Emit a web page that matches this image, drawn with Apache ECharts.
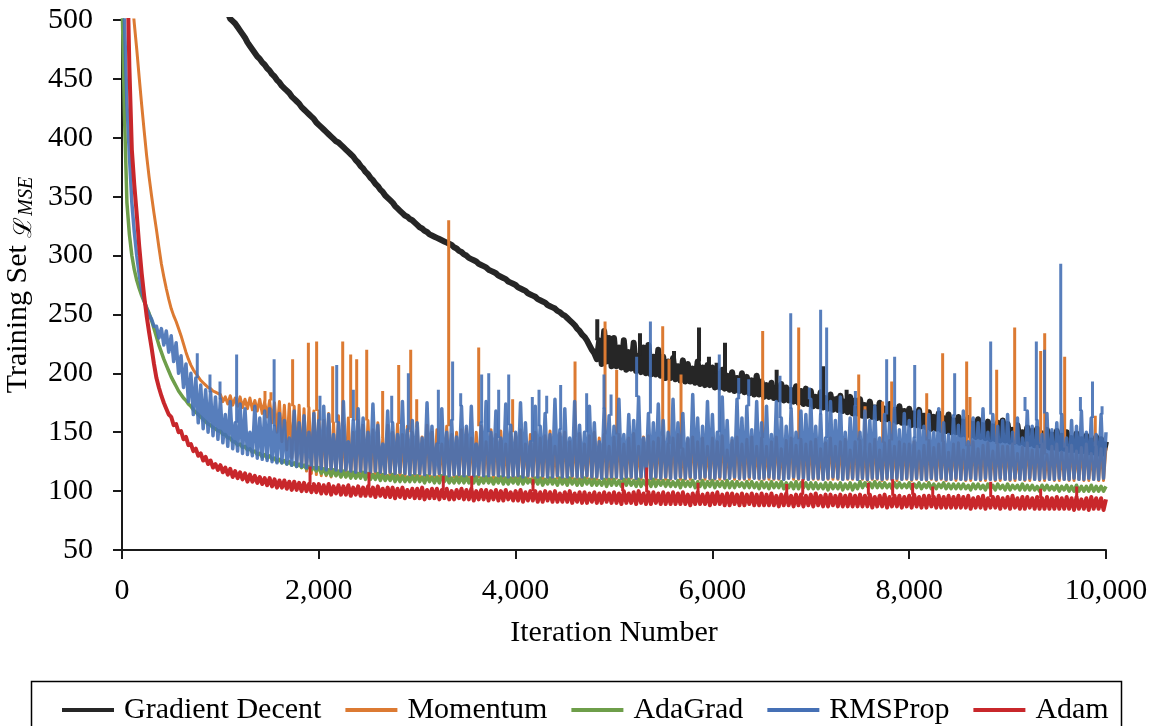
<!DOCTYPE html>
<html>
<head>
<meta charset="utf-8">
<script src="https://cdn.jsdelivr.net/npm/echarts@6/dist/echarts.min.js"></script>
<style>
html,body{margin:0;padding:0;background:#fff;}
#chart{width:1158px;height:726px;}
</style>
</head>
<body>
<div id="chart"></div>
<script>
// ---------- DATA ----------
// Each method: values at iterations 0,50,...,10000 ("Hi") and at 25,75,...,9975 ("Lo"),
// i.e. the noisy curve sampled every 25 iterations, plus isolated spikes [iteration, value].
const stepIter = 50;
const seriesNames = ['Gradient Decent', 'Momentum', 'AdaGrad', 'RMSProp', 'Adam'];
const xTicks = [0, 2000, 4000, 6000, 8000, 10000];
const yTicks = [50, 100, 150, 200, 250, 300, 350, 400, 450, 500];

const gdHi = [
  1300, 1150, 1050, 980, 920, 870, 830, 790, 760, 730,
  700, 680, 655, 635, 615, 598, 580, 565, 550, 537,
  525, 512, 501, 497, 491, 485, 478, 472, 467, 462,
  457, 452, 447, 442, 438, 433, 429, 424, 420, 416,
  411, 407, 403, 399, 396, 392, 388, 384, 379, 374,
  369, 364, 359, 354, 349, 345, 340, 336, 333, 330,
  326, 323, 320, 317, 315, 313, 311, 309, 306, 303,
  300, 297, 295, 292, 290, 287, 285, 282, 280, 277,
  275, 272, 270, 267, 265, 262, 260, 257, 255, 252,
  249, 245, 241, 236, 231, 224, 217, 228, 236, 230,
  230, 222, 228, 218, 226, 215, 222, 224, 214, 220,
  214, 210, 213, 206, 211, 208, 204, 210, 205, 207,
  205, 200, 203, 198, 201, 196, 200, 197, 194, 198,
  193, 190, 192, 187, 191, 188, 186, 189, 185, 187,
  185, 180, 184, 179, 182, 178, 181, 176, 180, 177,
  178, 173, 176, 171, 175, 170, 174, 169, 172, 168,
  170, 166, 169, 164, 167, 163, 166, 162, 165, 160,
  163, 159, 162, 157, 161, 156, 159, 155, 158, 160,
  157, 152, 156, 150, 154, 151, 153, 149, 152, 148,
  151, 147, 150, 145, 149, 144, 147, 143, 146, 144,
  142
];
const gdLo = [
  1220, 1100, 1015, 950, 895, 850, 810, 775, 745, 715,
  690, 668, 645, 625, 606, 589, 572, 557, 543, 531,
  518, 506, 499, 494, 488, 481, 475, 469, 464, 459,
  454, 449, 444, 440, 435, 431, 426, 422, 418, 413,
  409, 405, 401, 397, 394, 390, 386, 381, 376, 371,
  366, 361, 356, 351, 347, 342, 338, 334, 331, 328,
  324, 321, 318, 316, 314, 312, 310, 307, 304, 301,
  298, 296, 293, 291, 288, 286, 283, 281, 278, 276,
  273, 271, 268, 266, 263, 261, 258, 256, 253, 250,
  247, 243, 238, 233, 228, 220, 212, 208, 210, 206,
  206, 205, 203, 204, 202, 201, 200, 199, 199, 198,
  196, 196, 195, 194, 193, 193, 192, 191, 190, 190,
  188, 188, 187, 186, 185, 185, 184, 183, 182, 182,
  180, 180, 179, 178, 177, 177, 176, 175, 174, 174,
  172, 172, 171, 170, 169, 169, 168, 167, 166, 166,
  164, 164, 163, 162, 161, 161, 160, 159, 158, 158,
  156, 156, 155, 154, 153, 153, 152, 151, 150, 150,
  148, 148, 147, 146, 146, 145, 144, 144, 143, 143,
  142, 142, 141, 140, 140, 139, 139, 138, 137, 137,
  136, 136, 135, 135, 134, 134, 133, 133, 132, 132
];
const gdSpikes = [[4830,246],[5264,234],[5610,219],[5752,207],[5864,239],[5965,214],[6043,209],[6128,226],[6484,195],[6653,203],[7125,206],[7276,178],[7364,186]];

const momentumHi = [
  900, 700, 520, 475, 428, 385, 351, 322, 293, 272,
  255, 244, 232, 218, 207, 200, 194, 190, 187, 184,
  182, 180, 181, 179, 180, 178, 179, 177, 178, 176,
  177, 175, 176, 173, 174, 172, 173, 170, 171, 168,
  168, 160, 166, 158, 164, 155, 162, 150, 160, 156,
  160, 152, 158, 145, 156, 150, 157, 148, 155, 150,
  154, 146, 156, 150, 152, 140, 155, 148, 150, 152,
  153, 145, 150, 155, 142, 152, 148, 151, 140, 150,
  149, 152, 140, 148, 150, 145, 147, 151, 138, 149,
  150, 142, 146, 149, 140, 147, 150, 145, 148, 138,
  146, 148, 140, 145, 149, 138, 146, 147, 142, 145,
  147, 140, 145, 148, 136, 144, 146, 142, 145, 138,
  145, 142, 147, 135, 143, 146, 140, 144, 146, 138,
  145, 138, 142, 146, 136, 143, 145, 139, 144, 140,
  142, 144, 136, 141, 145, 138, 142, 144, 135, 142,
  143, 137, 140, 144, 135, 141, 143, 138, 142, 140,
  140, 142, 134, 139, 143, 137, 140, 142, 133, 140,
  141, 135, 138, 142, 136, 139, 141, 134, 140, 138,
  138, 140, 132, 137, 141, 135, 138, 140, 131, 138,
  140, 133, 137, 139, 134, 137, 140, 132, 138, 136,
  137
];
const momentumLo = [
  800, 600, 497, 451, 406, 367, 336, 307, 282, 263,
  249, 238, 225, 212, 203, 197, 192, 188, 185, 183,
  176, 174, 173, 172, 171, 170, 169, 168, 166, 163,
  158, 150, 142, 135, 128, 124, 120, 117, 115, 114,
  113, 113, 112, 113, 112, 112, 113, 112, 112, 112,
  112, 111, 112, 112, 111, 112, 111, 112, 111, 111,
  111, 112, 111, 111, 112, 111, 111, 112, 111, 111,
  111, 111, 112, 111, 111, 110, 111, 111, 110, 111,
  110, 111, 111, 110, 111, 110, 111, 110, 111, 110,
  110, 111, 110, 110, 111, 110, 110, 111, 110, 110,
  111, 110, 110, 111, 110, 110, 111, 110, 110, 110,
  110, 110, 111, 110, 110, 110, 111, 110, 110, 110,
  110, 110, 110, 111, 110, 110, 110, 110, 111, 110,
  110, 110, 110, 110, 110, 111, 110, 110, 110, 110,
  110, 110, 110, 110, 110, 110, 110, 110, 110, 110,
  110, 109, 110, 110, 109, 110, 110, 109, 110, 110,
  109, 110, 110, 109, 110, 109, 110, 109, 110, 109,
  110, 109, 109, 110, 109, 109, 110, 109, 109, 110,
  109, 109, 110, 109, 109, 110, 109, 109, 110, 109,
  109, 110, 109, 109, 110, 109, 109, 110, 109, 109
];
const momentumSpikes = [[1453,185],[1514,184],[1734,212],[1894,226],[1978,227],[2141,206],[2243,227],[2324,216],[2385,212],[2487,220],[2649,185],[2812,207],[2934,220],[2995,178],[3320,330],[3625,222],[3970,178],[4604,210],[4909,244],[5027,203],[5495,240],[5559,212],[5681,199],[6511,236],[6877,239],[7487,199],[7551,172],[7730,176],[7822,193],[8178,183],[8340,217],[8584,210],[8618,180],[8889,203],[9072,239],[9336,219],[9377,234],[9580,214],[9891,164]];

const adagradHi = [
  520, 345, 300, 279, 266, 256, 245, 231, 218, 207,
  197, 189, 182, 177, 172, 167, 163, 159, 156, 153,
  151, 148, 145, 142, 140, 138, 136, 134, 132, 131,
  130, 128, 127, 126, 125, 124, 123, 122, 121, 120,
  120, 119, 118, 118, 117, 117, 116, 116, 115, 116,
  115, 114, 115, 114, 113, 114, 113, 113, 112, 113,
  113, 112, 113, 112, 112, 113, 112, 111, 112, 112,
  112, 111, 112, 111, 112, 111, 111, 112, 111, 111,
  111, 112, 111, 110, 111, 111, 110, 111, 110, 111,
  110, 111, 110, 110, 111, 110, 110, 109, 110, 110,
  110, 109, 110, 110, 109, 110, 109, 109, 110, 109,
  109, 109, 108, 109, 109, 108, 109, 108, 109, 108,
  109, 108, 108, 109, 108, 108, 107, 108, 108, 107,
  108, 107, 108, 107, 108, 107, 107, 108, 107, 107,
  107, 107, 106, 107, 107, 106, 107, 106, 107, 106,
  108, 107, 107, 108, 107, 107, 106, 107, 107, 106,
  107, 106, 107, 106, 107, 106, 106, 107, 106, 106,
  106, 106, 105, 106, 106, 105, 106, 105, 106, 105,
  106, 105, 105, 106, 105, 105, 104, 105, 105, 104,
  105, 104, 105, 104, 105, 104, 104, 105, 104, 104,
  104
];
const adagradLo = [
  420, 318, 288, 272, 261, 251, 238, 224, 212, 202,
  193, 185, 179, 174, 169, 165, 161, 157, 154, 151,
  148, 145, 142, 139, 137, 135, 133, 131, 129, 128,
  127, 125, 124, 123, 122, 121, 120, 119, 118, 117,
  115, 114, 113, 113, 112, 112, 111, 111, 111, 110,
  110, 110, 109, 109, 109, 108, 108, 108, 108, 108,
  108, 107, 108, 107, 107, 108, 107, 107, 107, 107,
  107, 107, 106, 107, 107, 106, 107, 106, 106, 107,
  106, 106, 107, 106, 106, 105, 106, 106, 105, 106,
  105, 106, 105, 105, 106, 105, 105, 105, 104, 105,
  105, 104, 105, 105, 104, 104, 105, 104, 104, 105,
  104, 104, 104, 103, 104, 104, 103, 104, 103, 104,
  103, 104, 103, 103, 103, 104, 103, 103, 103, 102,
  103, 102, 103, 103, 102, 103, 102, 102, 103, 102,
  102, 102, 102, 101, 102, 102, 101, 102, 101, 102,
  103, 104, 103, 103, 103, 103, 102, 103, 103, 103,
  102, 103, 102, 103, 102, 102, 103, 102, 102, 102,
  102, 102, 101, 102, 102, 101, 102, 101, 102, 101,
  101, 102, 101, 101, 101, 101, 100, 101, 101, 101,
  100, 101, 100, 100, 100, 100, 100, 100, 100, 100
];

const rmspropHi = [
  600, 430, 345, 300, 270, 255, 246, 240, 238, 236,
  232, 226, 215, 208, 200, 196, 190, 186, 184, 180,
  178, 165, 176, 158, 174, 170, 150, 172, 162, 168,
  170, 155, 166, 160, 145, 168, 158, 164, 150, 166,
  160, 172, 165, 148, 158, 176, 142, 160, 170, 162,
  150, 174, 156, 140, 168, 158, 148, 176, 152, 160,
  158, 145, 175, 155, 140, 170, 150, 160, 146, 172,
  155, 172, 140, 158, 176, 150, 168, 145, 174, 156,
  150, 175, 158, 142, 172, 155, 166, 148, 178, 152,
  170, 145, 176, 156, 150, 172, 158, 142, 170, 164,
  155, 178, 148, 165, 160, 180, 145, 166, 158, 174,
  160, 150, 178, 158, 166, 145, 182, 162, 155, 176,
  165, 150, 180, 160, 145, 178, 162, 172, 152, 176,
  158, 172, 148, 176, 162, 155, 170, 150, 168, 165,
  178, 155, 165, 145, 176, 160, 180, 150, 162, 172,
  150, 168, 160, 172, 145, 165, 158, 170, 152, 166,
  160, 145, 168, 155, 165, 150, 170, 158, 148, 164,
  156, 168, 142, 162, 158, 170, 150, 165, 155, 160,
  165, 150, 162, 145, 168, 155, 160, 148, 166, 152,
  158, 165, 145, 160, 155, 168, 150, 162, 148, 165,
  150
];
const rmspropLo = [
  500, 385, 320, 284, 262, 250, 240, 230, 224, 218,
  210, 200, 188, 176, 165, 158, 153, 150, 147, 144,
  141, 138, 136, 134, 132, 131, 130, 128, 127, 126,
  125, 124, 124, 123, 122, 121, 121, 120, 120, 119,
  119, 118, 119, 118, 117, 118, 117, 116, 117, 116,
  116, 117, 116, 115, 116, 115, 116, 115, 114, 115,
  115, 114, 115, 114, 115, 114, 113, 114, 114, 113,
  114, 113, 114, 113, 113, 114, 113, 113, 112, 113,
  113, 112, 113, 113, 112, 113, 112, 112, 113, 112,
  112, 113, 112, 112, 113, 112, 112, 111, 112, 112,
  112, 111, 112, 112, 111, 112, 112, 111, 112, 111,
  112, 111, 111, 112, 111, 112, 111, 111, 112, 111,
  111, 112, 111, 111, 112, 111, 111, 112, 111, 111,
  111, 112, 111, 111, 110, 111, 112, 111, 111, 110,
  111, 111, 110, 111, 112, 111, 110, 111, 111, 110,
  111, 110, 111, 111, 110, 111, 110, 111, 110, 111,
  110, 111, 110, 110, 111, 110, 111, 110, 110, 111,
  110, 110, 111, 110, 110, 111, 110, 110, 111, 110,
  110, 111, 110, 110, 111, 110, 110, 111, 110, 110,
  111, 110, 110, 111, 110, 110, 111, 110, 110, 111
];
const rmspropSpikes = [[765,217],[894,199],[996,193],[1165,216],[1546,212],[2012,181],[2182,207],[2351,186],[2741,181],[2910,200],[3215,186],[3360,210],[3442,183],[3655,199],[3727,200],[3828,186],[3930,199],[4072,175],[4170,180],[4238,186],[4316,181],[4458,190],[4722,183],[4898,199],[4970,182],[5230,214],[5370,244],[6070,216],[6267,196],[6369,195],[6687,198],[6796,251],[6985,188],[7100,254],[7161,239],[7453,185],[7771,212],[7852,214],[8056,207],[8462,200],[8828,227],[9177,180],[9292,227],[9375,220],[9540,293],[9740,180],[9863,193],[9960,172]];

const adamHi = [
  900, 560, 390, 335, 285, 249, 222, 196, 181, 170,
  163, 157, 151, 146, 140, 136, 132, 129, 126, 123,
  122, 120, 119, 117, 116, 115, 114, 113, 112, 111,
  111, 110, 109, 109, 108, 108, 107, 107, 106, 106,
  106, 105, 106, 104, 105, 104, 105, 103, 104, 103,
  104, 103, 104, 102, 103, 103, 102, 103, 101, 102,
  102, 103, 101, 102, 102, 101, 102, 100, 101, 102,
  101, 102, 100, 101, 101, 100, 101, 100, 101, 99,
  100, 101, 99, 100, 100, 99, 100, 99, 100, 98,
  99, 100, 98, 99, 99, 98, 99, 98, 99, 98,
  99, 98, 100, 98, 99, 100, 98, 99, 99, 98,
  99, 98, 99, 98, 99, 97, 98, 99, 97, 98,
  98, 99, 97, 98, 98, 97, 98, 97, 98, 97,
  98, 97, 98, 96, 97, 98, 96, 97, 97, 96,
  97, 98, 96, 97, 97, 96, 97, 96, 97, 96,
  97, 96, 97, 95, 96, 97, 95, 96, 96, 95,
  96, 97, 95, 96, 96, 95, 96, 95, 96, 95,
  96, 95, 96, 94, 95, 96, 94, 95, 95, 94,
  95, 96, 94, 95, 95, 94, 95, 94, 95, 94,
  95, 94, 95, 94, 95, 93, 94, 95, 94, 94,
  93
];
const adamLo = [
  700, 460, 360, 308, 266, 235, 208, 188, 175, 165,
  156, 150, 144, 139, 134, 130, 126, 123, 120, 118,
  116, 114, 112, 111, 110, 108, 108, 107, 106, 105,
  104, 103, 103, 102, 101, 101, 100, 100, 99, 99,
  98, 98, 97, 98, 97, 97, 96, 97, 96, 96,
  96, 95, 96, 95, 95, 94, 95, 94, 95, 94,
  94, 93, 94, 94, 93, 94, 93, 93, 94, 93,
  93, 92, 93, 93, 92, 93, 92, 92, 93, 92,
  92, 91, 92, 92, 91, 91, 92, 91, 91, 91,
  91, 90, 91, 90, 90, 91, 90, 90, 91, 90,
  90, 89, 90, 90, 89, 90, 89, 89, 90, 89,
  89, 89, 89, 89, 89, 88, 89, 89, 89, 88,
  89, 89, 88, 88, 89, 88, 88, 89, 88, 88,
  88, 88, 88, 87, 88, 88, 87, 88, 87, 88,
  87, 88, 87, 87, 88, 87, 87, 87, 87, 87,
  87, 87, 86, 87, 87, 86, 87, 87, 86, 87,
  86, 87, 86, 86, 87, 86, 86, 86, 86, 86,
  86, 86, 85, 86, 86, 85, 86, 86, 85, 86,
  85, 86, 85, 85, 86, 85, 85, 85, 85, 85,
  85, 85, 85, 84, 85, 85, 84, 85, 85, 84
];
const adamSpikes = [[1911,121],[2510,116],[3265,113],[3554,113],[4177,110],[5088,107],[5332,120],[5854,107],[6755,106],[6918,110],[7585,107],[7832,110],[8035,107],[8239,104],[8828,108],[9336,102],[9702,104]];

// ---------- BUILD ----------
function curvePoints(hi, lo) {
  const pts = [];
  hi.forEach((v, i) => {
    pts.push([i * stepIter, v]);
    if (i < lo.length) pts.push([i * stepIter + stepIter / 2, lo[i]]);
  });
  return pts;
}
// each spike: a thin vertical stroke from the sampled value nearest that iteration up to the spike peak
function spikePoints(hi, spikes) {
  const pts = [];
  spikes.forEach(s => {
    const idx = Math.round(s[0] / stepIter);
    pts.push([s[0], hi[idx]], [s[0], s[1]], [s[0], '-']);
  });
  return pts;
}

const FONT = "'Liberation Serif', 'Times New Roman', serif";
const colors = ['#262626', '#DC7A32', '#6E9E4A', '#4570B5', '#C8272B'];
const bandWidths = [6, 3, 3.5, 3.5, 4];
const spikeWidths = [4, 3, 3, 3, 3];
const opacities = [1, 1, 1, 0.9, 1];
const his = [gdHi, momentumHi, adagradHi, rmspropHi, adamHi];
const los = [gdLo, momentumLo, adagradLo, rmspropLo, adamLo];
const spikeLists = [gdSpikes, momentumSpikes, [], rmspropSpikes, adamSpikes];

const series = [];
seriesNames.forEach((name, i) => {
  series.push({
    name, type: 'line', data: curvePoints(his[i], los[i]),
    showSymbol: false, symbol: 'none', clip: true,
    color: colors[i],
    lineStyle: { color: colors[i], width: bandWidths[i], opacity: opacities[i], join: 'round' },
    itemStyle: { color: colors[i] }
  });
  if (spikeLists[i].length) {
    series.push({
      name, type: 'line', data: spikePoints(his[i], spikeLists[i]),
      showSymbol: false, symbol: 'none', clip: true, connectNulls: false,
      color: colors[i],
      lineStyle: { color: colors[i], width: spikeWidths[i], opacity: opacities[i], cap: 'butt' },
      itemStyle: { color: colors[i] }
    });
  }
});

const chart = echarts.init(document.getElementById('chart'), null, { renderer: 'canvas' });
const fmt = v => String(v).replace(/\B(?=(\d{3})+(?!\d))/g, ',');

chart.setOption({
  animation: false,
  backgroundColor: '#ffffff',
  grid: { left: 122, right: 52, top: 20, bottom: 176, containLabel: false, outerBoundsMode: 'none' },
  xAxis: {
    type: 'value', min: xTicks[0], max: xTicks[xTicks.length - 1], interval: 2000,
    name: 'Iteration Number', nameLocation: 'middle', nameGap: 68,
    nameTextStyle: { fontFamily: FONT, fontSize: 30, color: '#000' },
    axisLine: { show: true, lineStyle: { color: '#1a1a1a', width: 2 } },
    axisTick: { show: true, inside: false, length: 9, lineStyle: { color: '#1a1a1a', width: 2 } },
    axisLabel: { fontFamily: FONT, fontSize: 30, color: '#000', margin: 26, formatter: fmt },
    splitLine: { show: false }
  },
  yAxis: {
    type: 'value', min: yTicks[0], max: yTicks[yTicks.length - 1], interval: 50,
    name: '{t|Training Set }{l|ℒ}{s|MSE}', nameLocation: 'middle', nameGap: 77, nameRotate: 90,
    nameTextStyle: {
      fontFamily: FONT, fontSize: 30, color: '#000',
      rich: {
        t: { fontFamily: FONT, fontSize: 30, lineHeight: 40, color: '#000', verticalAlign: 'middle' },
        l: { fontFamily: "'DejaVu Serif', serif", fontSize: 25, lineHeight: 25, padding: [12, 0, 0, 0], color: '#000', verticalAlign: 'middle' },
        s: { fontFamily: FONT, fontStyle: 'italic', fontSize: 20, lineHeight: 20, padding: [18, 0, 0, 1], color: '#000', verticalAlign: 'middle' }
      }
    },
    axisLine: { show: true, lineStyle: { color: '#1a1a1a', width: 2 } },
    axisTick: { show: true, inside: false, length: 9, lineStyle: { color: '#1a1a1a', width: 2 } },
    axisLabel: { fontFamily: FONT, fontSize: 30, color: '#000', margin: 29 },
    splitLine: { show: false }
  },
  legend: {
    data: seriesNames,
    left: 57, top: 690,
    icon: 'rect', itemWidth: 52, itemHeight: 4, itemGap: 24,
    textStyle: { fontFamily: FONT, fontSize: 30, color: '#000', padding: [0, 0, 0, 5] }
  },
  graphic: [{
    type: 'rect', left: 29, top: 679,
    shape: { x: 0, y: 0, width: 1090, height: 70 },
    style: { fill: 'none', stroke: '#000', lineWidth: 1.5 },
    silent: true
  }],
  series
});
</script>
</body>
</html>
